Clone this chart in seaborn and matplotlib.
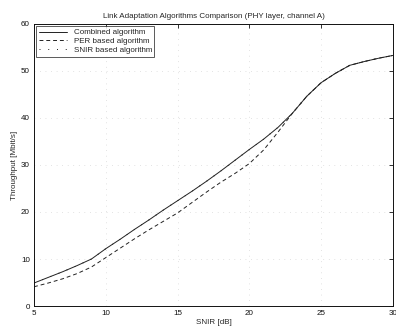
import matplotlib
matplotlib.use("Agg")
import matplotlib.pyplot as plt
import seaborn as sns
import pandas as pd

snir = [5, 6, 7, 8, 9, 10, 11, 12, 13, 14, 15, 16, 17, 18, 19, 20, 21, 22, 23, 24, 25, 26, 27, 28, 29, 30]
combined = [4.9, 6.1, 7.3, 8.6, 10.0, 12.2, 14.2, 16.3, 18.3, 20.4, 22.4, 24.4, 26.5, 28.7, 31.0, 33.3,
            35.5, 38.0, 41.0, 44.6, 47.5, 49.5, 51.2, 52.0, 52.7, 53.3]
per_based = [4.1, 4.9, 5.8, 6.9, 8.3, 10.3, 12.3, 14.3, 16.2, 18.0, 19.8, 22.0, 24.2, 26.3, 28.2, 30.3,
             33.2, 37.0, 41.0, 44.6, 47.5, 49.5, 51.2, 52.0, 52.7, 53.3]
snir_based = [4.9, 6.1, 7.3, 8.6, 10.0, 12.2, 14.2, 16.3, 18.3, 20.4, 22.4, 24.4, 26.5, 28.7, 31.0, 33.3,
              35.5, 38.0, 41.0, 44.6, 47.5, 49.5, 51.2, 52.0, 52.7, 53.3]
labels = ["Combined algorithm", "PER based algorithm", "SNIR based algorithm"]
xticks = [5, 10, 15, 20, 25, 30]
yticks = [0, 10, 20, 30, 40, 50, 60]

sns.set_style("white")
plt.rcParams['font.family'] = ['Liberation Sans', 'DejaVu Sans']

fig = plt.figure(figsize=(3.96, 3.28), dpi=100)
ax = fig.add_axes([0.086, 0.067, 0.906, 0.86])

styles = ["-", (0, (4, 3)), (0, (1, 8))]
for lab, vals, ls in zip(labels, [combined, per_based, snir_based], styles):
    df = pd.DataFrame({"x": snir, "y": vals})
    sns.lineplot(data=df, x="x", y="y", ax=ax, color="#222222", linewidth=0.7,
                 linestyle=ls, label=lab)

ax.set_xlim(5, 30)
ax.set_ylim(0, 60)
ax.set_xticks(xticks)
ax.set_yticks(yticks)
ax.grid(True, linestyle=(0, (1, 7)), color="#c8c8c8", linewidth=0.5)
ax.tick_params(direction="in", length=3, width=0.6, labelsize=5.8, top=True, right=True,
               pad=3, colors="#111111")
for s in ax.spines.values():
    s.set_color("#111111")
    s.set_linewidth(0.7)

ax.set_title("Link Adaptation Algorithms Comparison (PHY layer, channel A)", fontsize=5.8, pad=4)
ax.set_xlabel("SNIR [dB]", fontsize=5.8, labelpad=1)
ax.set_ylabel("Throughput [Mbit/s]", fontsize=5.8, labelpad=2)

leg = ax.legend(loc="upper left", fontsize=5.8, frameon=True, fancybox=False,
                borderpad=0.3, handlelength=3.5, labelspacing=0.15, borderaxespad=0.3)
leg.get_frame().set_edgecolor("#111111")
leg.get_frame().set_linewidth(0.6)

fig.savefig("out.png", dpi=100)
